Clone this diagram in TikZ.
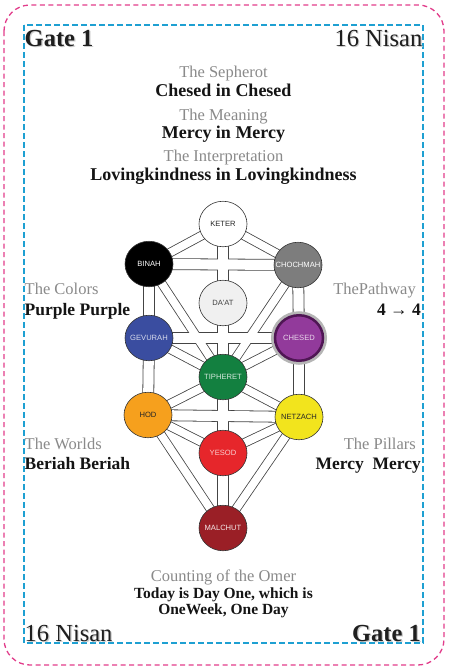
\documentclass[tikz,border=0pt]{standalone}
\usepackage{fontspec}
\setmainfont{Liberation Serif}
\newfontfamily\sefsans{Liberation Sans}
\usetikzlibrary{shapes.geometric}
\pgfdeclarelayer{bg}
\pgfsetlayers{bg,main}
\newcommand{\seflabel}[1]{\makebox[0pt]{#1}}
\definecolor{pinkdash}{HTML}{E23D8B}
\definecolor{bluedash}{HTML}{1EA0D2}
\definecolor{labelgray}{HTML}{8A8A8A}
\definecolor{halogray}{HTML}{B5B5B5}
\definecolor{chochcol}{HTML}{7D7D7D}
\definecolor{daatcol}{HTML}{F0F0F0}
\definecolor{gevcol}{HTML}{3A4DA0}
\definecolor{chescol}{HTML}{923A9B}
\definecolor{chesborder}{HTML}{4F1654}
\definecolor{tiphcol}{HTML}{138040}
\definecolor{hodcol}{HTML}{F6A01D}
\definecolor{netzcol}{HTML}{F2E41D}
\definecolor{yesodcol}{HTML}{E6262B}
\definecolor{malccol}{HTML}{9A1F26}
\definecolor{chanline}{HTML}{444444}
\begin{document}
\begin{tikzpicture}[x=1pt,y=-1pt,
  lbl/.style={text=labelgray, inner sep=0, font=\fontsize{16.5}{18}\selectfont},
  val/.style={text=black!92, inner sep=0, font=\bfseries\fontsize{18}{20}\selectfont},
  sval/.style={text=black!92, inner sep=0, font=\bfseries\fontsize{17.5}{20}\selectfont},
  corner/.style={text=black!88, inner sep=0},
  cshadow/.style={text=black!20, inner sep=0},
  omer/.style={text=black!92, inner sep=0, align=center, font=\bfseries\fontsize{15.5}{16}\selectfont},
  sef/.style={ellipse, draw=black!80, line width=0.6pt, minimum width=48, minimum height=45.5, inner sep=0, font=\sefsans\fontsize{7.6}{8}\selectfont},
  chanout/.style={draw=chanline, line width=11.8pt},
  chanin/.style={draw=white, line width=10.2pt},
  dchanout/.style={draw=chanline, line width=9.4pt},
  dchanin/.style={draw=white, line width=7.8pt}
]
\useasboundingbox (0,0) rectangle (449,670);
\begin{pgfonlayer}{bg}
\fill[white] (0,0) rectangle (449,670);
\end{pgfonlayer}

% frames
\draw[pinkdash, line width=1.3pt, dash pattern=on 5pt off 3.5pt, rounded corners=26] (4,5) rectangle (444,665);
\draw[bluedash, line width=1.8pt, dash pattern=on 6pt off 3pt] (24,25) rectangle (423,643);

% corner texts
\node[cshadow, anchor=base west, font=\bfseries\fontsize{24.5}{26}\selectfont] (g1s) at (25.7,47.3) {Gate 1};
\node[corner, anchor=base west, font=\bfseries\fontsize{24.5}{26}\selectfont] (g1) at (24.5,46) {Gate 1};
\node[cshadow, anchor=base east, font=\fontsize{24.5}{26}\selectfont] (n1s) at (423.7,47.3) {16 Nisan};
\node[corner, anchor=base east, font=\fontsize{24.5}{26}\selectfont] (n1) at (422.5,46) {16 Nisan};
\node[cshadow, anchor=base west, font=\fontsize{24.5}{26}\selectfont] (n2s) at (25.7,642.8) {16 Nisan};
\node[corner, anchor=base west, font=\fontsize{24.5}{26}\selectfont] (n2) at (24.5,641.5) {16 Nisan};
\node[cshadow, anchor=base east, font=\bfseries\fontsize{24.5}{26}\selectfont] (g2s) at (422.2,642.8) {Gate 1};
\node[corner, anchor=base east, font=\bfseries\fontsize{24.5}{26}\selectfont] (g2) at (421,641.5) {Gate 1};

% top headings
\node[lbl, anchor=base] (h1) at (223.5,77) {The Sepherot};
\node[val, anchor=base] (v1) at (223.5,96) {Chesed in Chesed};
\node[lbl, anchor=base] (h2) at (223.5,120) {The Meaning};
\node[val, anchor=base] (v2) at (223.5,138.5) {Mercy in Mercy};
\node[lbl, anchor=base] (h3) at (223.5,161) {The Interpretation};
\node[val, anchor=base] (v3) at (223.5,180) {Lovingkindness in Lovingkindness};

% side texts
\node[lbl, anchor=base west] (colh) at (24.5,294) {The Colors};
\node[sval, anchor=base west] (colv) at (24.5,315) {Purple Purple};
\node[lbl, anchor=base east] (path) at (416,294) {ThePathway};
\node[sval, anchor=base east] (pathv) at (421,315) {4 → 4};
\node[lbl, anchor=base west] (worh) at (24.5,449.5) {The Worlds};
\node[sval, anchor=base west] (worv) at (24.5,469.5) {Beriah Beriah};
\node[lbl, anchor=base east] (pilh) at (416,449.5) {The Pillars};
\node[sval, anchor=base east] (pilv) at (421,469.5) {Mercy\ \ Mercy};

% bottom
\node[lbl, anchor=base] (omh) at (223.5,581.5) {Counting of the Omer};
\node[omer, anchor=base] (om1) at (223.5,598.5) {Today is Day One, which is};
\node[omer, anchor=base] (om2) at (223.5,614.5) {OneWeek, One Day};

% sephirot
\node[sef, fill=white, text=black!85] (keter) at (223,224) {\seflabel{KETER}};
\node[sef, fill=black, text=white] (binah) at (149,264) {\seflabel{BINAH}};
\node[sef, fill=chochcol, text=white] (choch) at (298,265) {\seflabel{CHOCHMAH}};
\node[sef, fill=daatcol, text=black!75] (daat) at (223,303) {\seflabel{DA'AT}};
\node[sef, fill=gevcol, text=white!80!gevcol] (gev) at (149,338) {\seflabel{GEVURAH}};
\node[sef, fill=chescol, text=white!80!chescol, draw=chesborder, line width=2.5pt, preaction={draw=halogray, line width=8pt}] (ches) at (299,338) {\seflabel{CHESED}};
\node[sef, fill=tiphcol, text=white!82!tiphcol] (tiph) at (223,377) {\seflabel{TIPHERET}};
\node[sef, fill=hodcol, text=black!85] (hod) at (148,415) {\seflabel{HOD}};
\node[sef, fill=netzcol, text=black!85] (netz) at (299,417) {\seflabel{NETZACH}};
\node[sef, fill=yesodcol, text=white!78!yesodcol] (yesod) at (223,453) {\seflabel{YESOD}};
\node[sef, fill=malccol, text=white!90!malccol] (malc) at (223,528) {\seflabel{MALCHUT}};

% channels
\begin{pgfonlayer}{bg}
\foreach \a/\b in {keter/daat, daat/tiph, binah/choch, binah/gev, choch/ches, gev/ches, gev/hod, ches/netz, tiph/yesod, hod/netz, yesod/malc}
  \draw[chanout] (\a.center) -- (\b.center);
\foreach \a/\b in {keter/binah, keter/choch, binah/tiph, choch/tiph, gev/tiph, ches/tiph, tiph/hod, tiph/netz, hod/yesod, netz/yesod, hod/malc, netz/malc}
  \draw[dchanout] (\a.center) -- (\b.center);
\foreach \a/\b in {keter/daat, daat/tiph, binah/choch, binah/gev, choch/ches, gev/ches, gev/hod, ches/netz, tiph/yesod, hod/netz, yesod/malc}
  \draw[chanin] (\a.center) -- (\b.center);
\foreach \a/\b in {keter/binah, keter/choch, binah/tiph, choch/tiph, gev/tiph, ches/tiph, tiph/hod, tiph/netz, hod/yesod, netz/yesod, hod/malc, netz/malc}
  \draw[dchanin] (\a.center) -- (\b.center);
\end{pgfonlayer}
\end{tikzpicture}
\end{document}
